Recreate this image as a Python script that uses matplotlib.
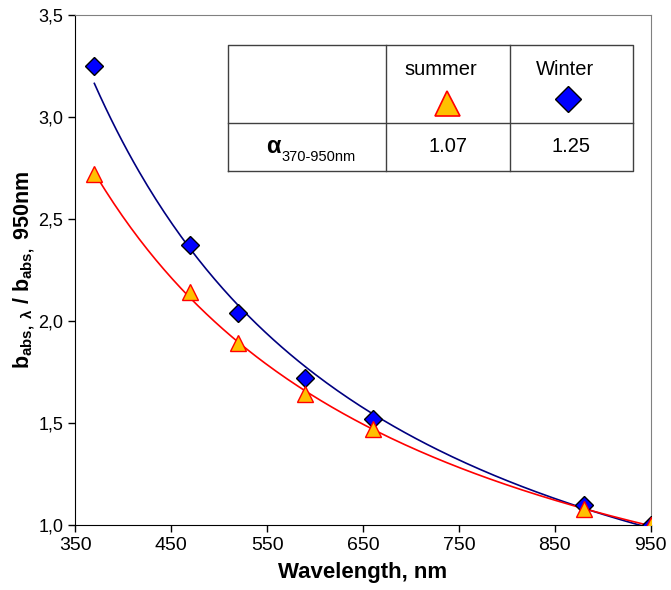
import matplotlib
matplotlib.use('Agg')
import matplotlib.pyplot as plt
import numpy as np

plt.rcParams['font.family'] = ['Liberation Sans', 'DejaVu Sans']
plt.rcParams['mathtext.fontset'] = 'custom'
plt.rcParams['mathtext.rm'] = 'Liberation Sans'
plt.rcParams['mathtext.bf'] = 'Liberation Sans:bold'
plt.rcParams['mathtext.it'] = 'Liberation Sans:italic'

# data
wavelength = [370, 470, 520, 590, 660, 880, 950]
summer = [2.72, 2.14, 1.89, 1.64, 1.47, 1.08, 1.00]
winter = [3.25, 2.37, 2.04, 1.72, 1.52, 1.10, 1.00]
alpha_labels = ['1.07', '1.25']

fig = plt.figure(figsize=(6.71, 5.90), dpi=100)
ax = fig.add_axes([0.112, 0.110, 0.858, 0.865])

# power-law trend lines fitted to the points (like excel trendline)
lx = np.log(wavelength)
xs = np.linspace(370, 950, 200)
cw = np.polyfit(lx, np.log(winter), 1)
cs = np.polyfit(lx, np.log(summer), 1)
ax.plot(xs, np.exp(np.polyval(cw, np.log(xs))), color='#000080', lw=1.2, zorder=2)
ax.plot(xs, np.exp(np.polyval(cs, np.log(xs))), color='#ff0000', lw=1.2, zorder=2)

ax.plot(wavelength, winter, linestyle='', marker='D', markersize=9,
        markerfacecolor='#0000ff', markeredgecolor='black', markeredgewidth=1, zorder=3)
ax.plot(wavelength, summer, linestyle='', marker='^', markersize=11,
        markerfacecolor='#ffc000', markeredgecolor='#ff0000', markeredgewidth=1, zorder=4)

ax.set_xlim(350, 950)
ax.set_ylim(1.0, 3.5)
ax.set_xticks(np.arange(350, 951, 100))
ax.set_yticks(np.arange(1.0, 3.51, 0.5))
ax.set_yticklabels([('%.1f' % v).replace('.', ',') for v in np.arange(1.0, 3.51, 0.5)])
ax.tick_params(labelsize=13, direction='out', length=5, width=1, colors='black')
ax.tick_params(axis='x', labelsize=14)
for s in ['top', 'right']:
    ax.spines[s].set_color('#808080')
ax.set_xlabel('Wavelength, nm', fontsize=16, fontweight='bold', labelpad=6)
ax.set_ylabel(r'$\mathbf{b_{abs,\ \lambda}\ /\ b_{abs,}\ 950nm}$', fontsize=15.5, labelpad=1)

# little table in the upper right
T = ax.transAxes
tl, tr, tt, tb, tm = 0.2656, 0.9688, 0.941, 0.694, 0.788
c1, c2 = 0.540, 0.755
kw = dict(transform=T, color='#404040', lw=1, zorder=5)
ax.plot([tl, tr, tr, tl, tl], [tb, tb, tt, tt, tb], **kw)
ax.plot([tl, tr], [tm, tm], **kw)
ax.plot([c1, c1], [tb, tt], **kw)
ax.plot([c2, c2], [tb, tt], **kw)
ax.text(0.635, 0.892, 'summer', transform=T, fontsize=14.5, ha='center', va='center')
ax.text(0.851, 0.892, 'Winter', transform=T, fontsize=14.5, ha='center', va='center')
ax.plot([0.646], [0.828], transform=T, marker='^', markersize=18, linestyle='',
        markerfacecolor='#ffc000', markeredgecolor='#ff0000', markeredgewidth=1.2, zorder=6)
ax.plot([0.856], [0.835], transform=T, marker='D', markersize=13.5, linestyle='',
        markerfacecolor='#0000ff', markeredgecolor='black', markeredgewidth=1, zorder=6)
ax.text(0.648, 0.741, alpha_labels[0], transform=T, fontsize=14.5, ha='center', va='center')
ax.text(0.861, 0.741, alpha_labels[1], transform=T, fontsize=14.5, ha='center', va='center')
ax.text(0.344, 0.741, u'\u03b1', transform=T, fontsize=17, fontweight='bold', ha='center', va='center')
ax.text(0.358, 0.722, '370-950nm', transform=T, fontsize=10.5, ha='left', va='center')

plt.savefig('out.png', dpi=100)
